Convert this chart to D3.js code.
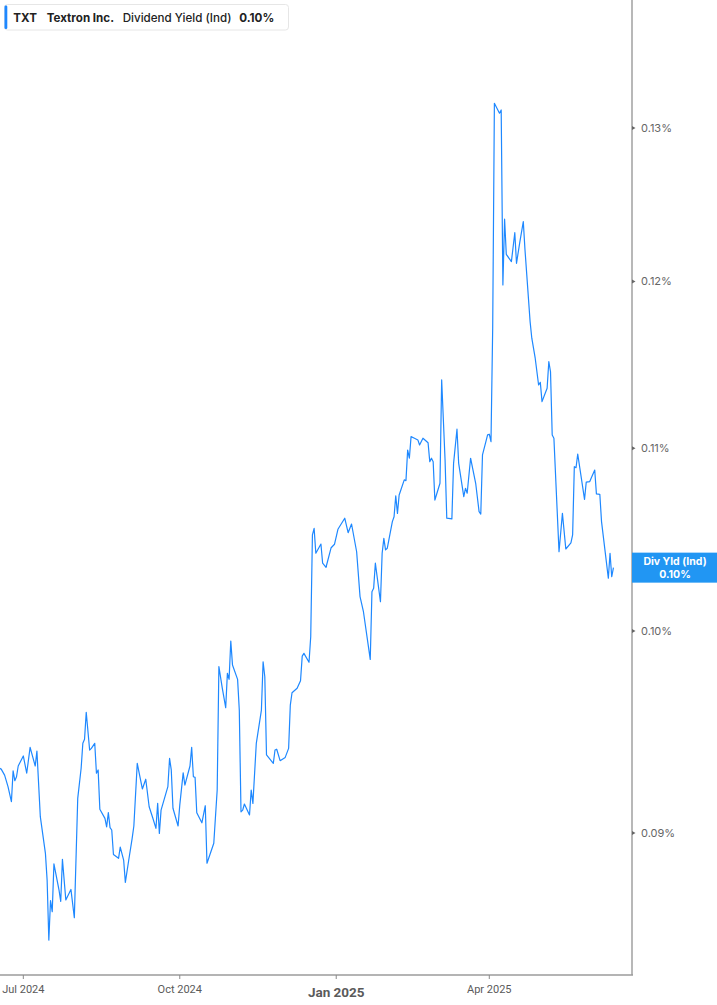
<!DOCTYPE html>
<html><head><meta charset="utf-8">
<script src="https://cdn.jsdelivr.net/npm/d3@7"></script>
<style>html,body{margin:0;padding:0;background:#fff;}svg{display:block;}</style>
</head><body>
<svg id="chart" width="717" height="1005"></svg>
<script>
const ticker = "TXT";
const company = "Textron Inc.";
const metric = "Dividend Yield (Ind)";
const lastLabel = "0.10%";
const badgeTitle = "Div Yld (Ind)";

const dates = [
"2024-06-17","2024-06-18","2024-06-20","2024-06-22","2024-06-24","2024-06-25","2024-06-26","2024-06-27","2024-06-28",
"2024-07-01","2024-07-03","2024-07-05","2024-07-08","2024-07-09","2024-07-11","2024-07-14","2024-07-15","2024-07-16","2024-07-17","2024-07-18","2024-07-19","2024-07-22","2024-07-23","2024-07-24","2024-07-26","2024-07-29","2024-07-31",
"2024-08-02","2024-08-04","2024-08-05","2024-08-06","2024-08-07","2024-08-09","2024-08-10","2024-08-12","2024-08-13","2024-08-14","2024-08-15","2024-08-18","2024-08-19","2024-08-20","2024-08-21","2024-08-22","2024-08-23","2024-08-26","2024-08-27","2024-08-29","2024-08-30",
"2024-09-01","2024-09-03","2024-09-04","2024-09-06","2024-09-09","2024-09-11","2024-09-13","2024-09-15","2024-09-17","2024-09-18","2024-09-19","2024-09-20","2024-09-24","2024-09-25","2024-09-26","2024-09-27","2024-09-30",
"2024-10-01","2024-10-03","2024-10-04","2024-10-07","2024-10-08","2024-10-09","2024-10-10","2024-10-11","2024-10-14","2024-10-16","2024-10-17","2024-10-21","2024-10-23","2024-10-24","2024-10-26","2024-10-28","2024-10-29","2024-10-30","2024-10-31",
"2024-11-01","2024-11-04","2024-11-05","2024-11-06","2024-11-07","2024-11-08","2024-11-11","2024-11-12","2024-11-13","2024-11-15","2024-11-18","2024-11-19","2024-11-20","2024-11-21","2024-11-25","2024-11-26","2024-11-27","2024-11-29",
"2024-12-02","2024-12-04","2024-12-05","2024-12-06","2024-12-09","2024-12-11","2024-12-12","2024-12-13","2024-12-16","2024-12-17","2024-12-18","2024-12-19","2024-12-20","2024-12-23","2024-12-24","2024-12-26","2024-12-29","2024-12-31",
"2025-01-02","2025-01-06","2025-01-08","2025-01-10","2025-01-13","2025-01-15","2025-01-17","2025-01-21","2025-01-22","2025-01-23","2025-01-24","2025-01-27","2025-01-28","2025-01-29","2025-01-30","2025-01-31",
"2025-02-03","2025-02-04","2025-02-05","2025-02-06","2025-02-07","2025-02-10","2025-02-11","2025-02-12","2025-02-13","2025-02-14","2025-02-16","2025-02-18","2025-02-19","2025-02-21","2025-02-24","2025-02-25","2025-02-26","2025-02-27","2025-02-28",
"2025-03-03","2025-03-04","2025-03-06","2025-03-07","2025-03-10","2025-03-11","2025-03-13","2025-03-14","2025-03-17","2025-03-18","2025-03-19","2025-03-21","2025-03-24","2025-03-26","2025-03-27","2025-03-28","2025-03-30","2025-03-31",
"2025-04-01","2025-04-02","2025-04-03","2025-04-04","2025-04-07","2025-04-08","2025-04-09","2025-04-10","2025-04-11","2025-04-14","2025-04-16","2025-04-17","2025-04-19","2025-04-21","2025-04-22","2025-04-25","2025-04-26","2025-04-28","2025-04-30",
"2025-05-01","2025-05-02","2025-05-05","2025-05-06","2025-05-07","2025-05-08","2025-05-09","2025-05-12","2025-05-14","2025-05-16","2025-05-19","2025-05-20","2025-05-21","2025-05-22","2025-05-23","2025-05-27","2025-05-28","2025-05-30",
"2025-06-02","2025-06-03","2025-06-05","2025-06-06","2025-06-08","2025-06-10","2025-06-11","2025-06-12","2025-06-13"
];

const yields = [
0.09309,0.09305,0.09276,0.09220,0.09148,0.09297,0.09249,0.09268,0.09320,
0.09369,0.09285,0.09411,0.09320,0.09393,0.09077,0.08905,0.08782,0.08511,0.08688,0.08638,0.08856,0.08736,0.08685,0.08877,0.08691,0.08739,0.08611,
0.09164,0.09309,0.09431,0.09451,0.09585,0.09398,0.09406,0.09431,0.09285,0.09301,0.09112,0.09069,0.09029,0.09096,0.09025,0.09014,0.08900,0.08882,0.08934,0.08874,0.08771,
0.08874,0.08975,0.09033,0.09333,0.09209,0.09256,0.09124,0.09074,0.09022,0.09140,0.08998,0.09108,0.09220,0.09357,0.09301,0.09117,0.09033,
0.09132,0.09287,0.09228,0.09320,0.09411,0.09268,0.09265,0.09096,0.09048,0.09129,0.08859,0.08952,0.09204,0.09816,0.09706,0.09608,0.09782,0.09751,0.09948,
0.09824,0.09751,0.09596,0.09100,0.09108,0.09137,0.09085,0.09204,0.09140,0.09431,0.09596,0.09841,0.09764,0.09374,0.09333,0.09398,0.09402,0.09346,
0.09362,0.09406,0.09621,0.09683,0.09706,0.09744,0.09870,0.09884,0.09838,0.09970,0.10514,0.10550,0.10414,0.10464,0.10360,0.10338,0.10444,0.10463,
0.10545,0.10606,0.10526,0.10574,0.10422,0.10181,0.10101,0.09853,0.10207,0.10225,0.10360,0.10154,0.10414,0.10495,0.10432,0.10441,
0.10587,0.10614,0.10730,0.10633,0.10735,0.10820,0.10816,0.10990,0.10943,0.11067,0.11058,0.11048,0.11019,0.11058,0.11032,0.10923,0.10943,0.10923,0.10707,
0.10801,0.11399,0.10933,0.10606,0.10602,0.10914,0.11110,0.10914,0.10726,0.10773,0.10745,0.10943,0.10801,0.10642,0.10629,0.10962,0.11038,0.11077,
0.11081,0.11038,0.11710,0.13169,0.13101,0.13123,0.11978,0.12396,0.12171,0.12125,0.12309,0.12114,0.12252,0.12380,0.12199,0.11751,0.11650,0.11529,0.11369,
0.11385,0.11271,0.11350,0.11508,0.11448,0.11077,0.11058,0.10422,0.10633,0.10437,0.10471,0.10514,0.10895,0.10889,0.10967,0.10711,0.10807,0.10810,
0.10876,0.10741,0.10739,0.10587,0.10432,0.10279,0.10414,0.10287,0.10336
];

const yTicks = [0.09, 0.10, 0.11, 0.12, 0.13];
const xTickDates = ["2024-07-01", "2024-10-01", "2025-01-01", "2025-04-01"];
const xTickLabels = ["Jul 2024", "Oct 2024", "Jan 2025", "Apr 2025"];
const xTickBold = [false, false, true, false];

const parse = d3.utcParse("%Y-%m-%d");
const data = dates.map((d, i) => ({ date: parse(d), value: yields[i] }));

const plotRight = 632, plotBottom = 975;
const x = d3.scaleUtc()
  .domain([new Date(Date.UTC(2024, 5, 17, 7)), new Date(Date.UTC(2025, 5, 23, 22))])
  .range([0, plotRight]);
const y = d3.scaleLog().domain([0.09, 0.13]).range([833, 128]);

const svg = d3.select("#chart");
const FONT = "Inter, Roboto, 'Noto Sans', sans-serif";

// axis frame
svg.append("line").attr("x1", 0).attr("x2", plotRight + 1).attr("y1", plotBottom).attr("y2", plotBottom)
  .attr("stroke", "#b4b4b4").attr("stroke-width", 1.8);
svg.append("line").attr("x1", plotRight).attr("x2", plotRight).attr("y1", 0).attr("y2", plotBottom)
  .attr("stroke", "#9a9a9a").attr("stroke-width", 1.4);

// x ticks
const xt = svg.append("g");
xTickDates.forEach((d, i) => {
  const px = x(parse(d));
  xt.append("line").attr("x1", px).attr("x2", px).attr("y1", plotBottom).attr("y2", plotBottom + 4)
    .attr("stroke", "#8a8a8a").attr("stroke-width", 1);
  xt.append("text").attr("x", px).attr("y", xTickBold[i] ? 997 : 993)
    .attr("text-anchor", "middle")
    .attr("font-family", "Roboto, sans-serif")
    .attr("font-size", xTickBold[i] ? 13.5 : 11)
    .attr("font-weight", xTickBold[i] ? 700 : 400)
    .attr("fill", "#5a5a5a")
    .text(xTickLabels[i]);
});

// y ticks
const yt = svg.append("g");
yTicks.forEach(v => {
  const py = y(v);
  yt.append("path").attr("d", `M${plotRight},${py - 2}L${plotRight + 3.5},${py}L${plotRight},${py + 2}Z`)
    .attr("fill", "#666");
  yt.append("text").attr("x", 641).attr("y", py).attr("dy", "0.35em")
    .attr("font-family", FONT).attr("font-size", 11).attr("fill", "#666")
    .text(v.toFixed(2) + "%");
});

// line
const line = d3.line().x(d => x(d.date)).y(d => y(d.value));
svg.append("path").datum(data).attr("d", line)
  .attr("fill", "none").attr("stroke", "#1e88ff").attr("stroke-width", 1.2)
  .attr("stroke-linejoin", "round");

// last value badge
const last = data[data.length - 1];
const ly = y(last.value);
svg.append("rect").attr("x", plotRight).attr("y", ly - 15).attr("width", 717 - plotRight).attr("height", 30)
  .attr("fill", "#2196f3");
const badge = svg.append("text").attr("text-anchor", "middle")
  .attr("font-family", FONT).attr("font-size", 10.5).attr("font-weight", 700).attr("fill", "#fff");
badge.append("tspan").attr("x", 675).attr("y", ly - 3).text(badgeTitle);
badge.append("tspan").attr("x", 675).attr("y", ly + 10).text(last.value.toFixed(2) + "%");

// legend
const lg = svg.append("g");
lg.append("rect").attr("x", 4.5).attr("y", 4.5).attr("width", 284).attr("height", 25.5).attr("rx", 3)
  .attr("fill", "#fff").attr("stroke", "#e6e6e6");
lg.append("rect").attr("x", 4.5).attr("y", 5.5).attr("width", 2.8).attr("height", 23.5).attr("rx", 1.2)
  .attr("fill", "#1e88ff");
const legendItems = [
  { t: ticker, x: 13.3, w: 700 },
  { t: company, x: 46.7, w: 700 },
  { t: metric, x: 122.7, w: 500 },
  { t: lastLabel, x: 239.3, w: 700 }
];
legendItems.forEach(it => {
  lg.append("text").attr("x", it.x).attr("y", 21.5)
    .attr("font-family", FONT).attr("font-size", 11.6).attr("font-weight", it.w)
    .attr("fill", "#222").text(it.t);
});
</script>
</body></html>
